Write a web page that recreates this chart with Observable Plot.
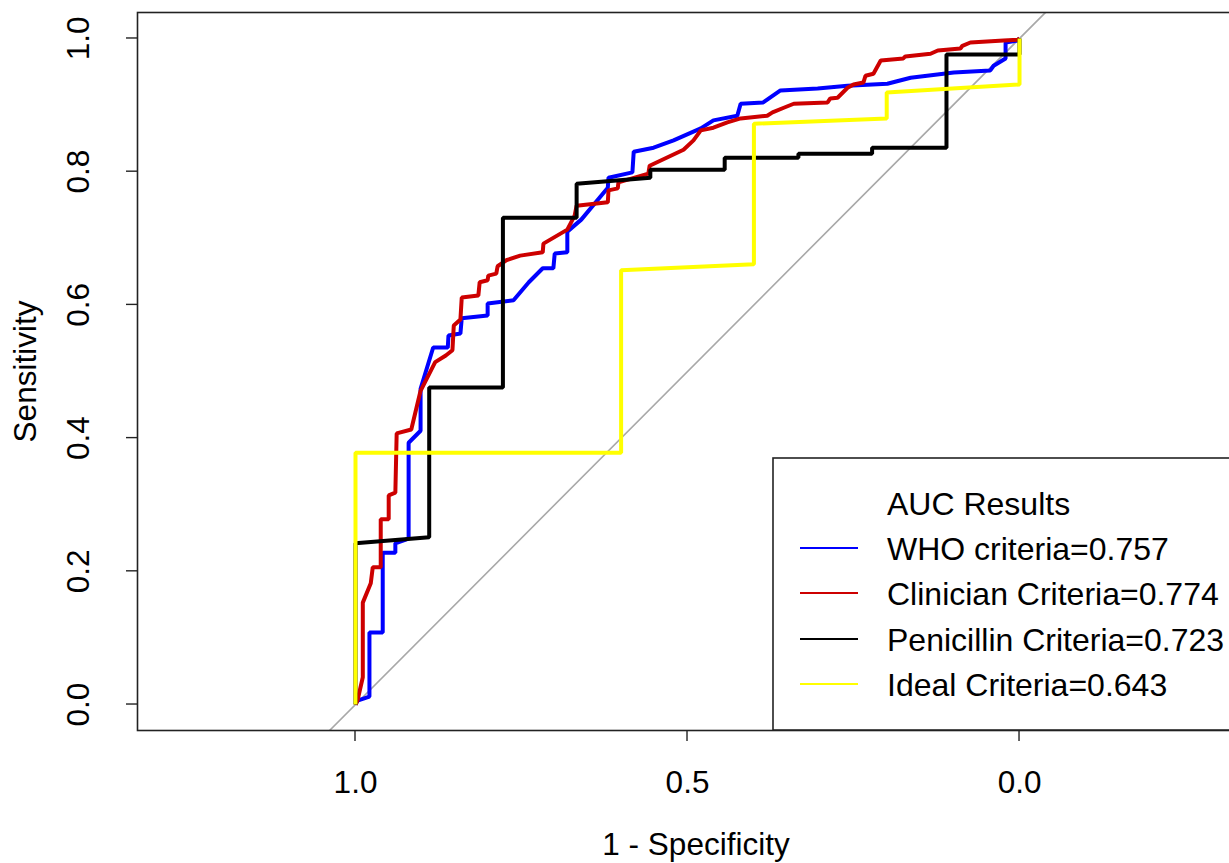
<!DOCTYPE html>
<html>
<head>
<meta charset="utf-8">
<script src="https://cdn.jsdelivr.net/npm/d3@7"></script>
<script src="https://cdn.jsdelivr.net/npm/@observablehq/plot@0.6"></script>
<style>
  html, body { margin: 0; padding: 0; background: #fff; overflow: hidden; }
  #chart svg { display: block; }
</style>
</head>
<body>
<div id="chart"></div>
<script>
// ---- Data (specificity on x, reversed; sensitivity on y) ----
const seriesNames = ["WHO criteria", "Clinician Criteria", "Penicillin Criteria", "Ideal Criteria"];
const seriesAUC = [0.757, 0.774, 0.723, 0.643];
const seriesColors = ["#0000ff", "#cd0000", "#000000", "#ffff00"];

const whoSpec = [1.000,0.997,0.979,0.979,0.959,0.959,0.940,0.940,0.920,0.920,0.902,0.902,0.883,0.861,0.860,0.842,0.840,0.801,0.801,0.762,0.739,0.718,0.702,0.700,0.681,0.681,0.660,0.620,0.619,0.583,0.581,0.551,0.521,0.480,0.461,0.425,0.420,0.386,0.360,0.304,0.259,0.199,0.164,0.099,0.044,0.039,0.021,0.021,0.003,0.000];
const whoSens = [0.000,0.006,0.012,0.108,0.108,0.228,0.228,0.242,0.249,0.393,0.411,0.474,0.536,0.536,0.554,0.557,0.580,0.584,0.602,0.607,0.634,0.655,0.655,0.677,0.679,0.710,0.728,0.776,0.791,0.799,0.830,0.836,0.847,0.865,0.877,0.884,0.902,0.904,0.922,0.925,0.929,0.932,0.941,0.949,0.952,0.959,0.970,0.994,0.997,1.000];

const clinSpec = [1.000,0.997,0.989,0.989,0.977,0.974,0.962,0.962,0.950,0.950,0.940,0.938,0.916,0.902,0.880,0.864,0.854,0.852,0.842,0.840,0.815,0.813,0.801,0.800,0.788,0.786,0.773,0.752,0.718,0.717,0.681,0.670,0.667,0.620,0.619,0.605,0.604,0.559,0.557,0.506,0.491,0.480,0.461,0.440,0.420,0.380,0.372,0.355,0.340,0.289,0.285,0.274,0.259,0.250,0.235,0.232,0.220,0.209,0.175,0.172,0.134,0.123,0.089,0.086,0.074,0.024,0.003,0.000];
const clinSens = [0.000,0.006,0.041,0.153,0.182,0.206,0.206,0.278,0.278,0.314,0.318,0.407,0.413,0.471,0.514,0.524,0.532,0.569,0.578,0.611,0.614,0.634,0.637,0.644,0.647,0.658,0.667,0.674,0.679,0.692,0.713,0.734,0.749,0.754,0.772,0.775,0.784,0.797,0.809,0.833,0.847,0.862,0.866,0.874,0.880,0.884,0.889,0.896,0.902,0.904,0.910,0.911,0.926,0.931,0.934,0.944,0.947,0.967,0.970,0.973,0.977,0.982,0.985,0.989,0.994,0.997,0.998,1.000];

const penSpec = [1.000,1.000,0.889,0.889,0.778,0.778,0.667,0.667,0.556,0.556,0.444,0.444,0.333,0.333,0.222,0.222,0.110,0.110,0.000,0.000];
const penSens = [0.000,0.242,0.251,0.476,0.476,0.731,0.731,0.782,0.791,0.803,0.803,0.821,0.821,0.827,0.827,0.836,0.836,0.976,0.976,1.000];

const idealSpec = [1.000,1.000,0.600,0.600,0.400,0.400,0.200,0.200,0.000,0.000];
const idealSens = [0.000,0.378,0.378,0.652,0.661,0.872,0.880,0.919,0.931,1.000];

const diagSpec = [1.04, -0.04];
const diagSens = [-0.04, 1.04];

const specTicks = [1.0, 0.5, 0.0];
const sensTicks = [0.0, 0.2, 0.4, 0.6, 0.8, 1.0];

// ---- Build tables ----
const toRows = (sp, se, name) => sp.map((s, i) => ({spec: s, sens: se[i], series: name}));
const curves = [
  toRows(whoSpec, whoSens, seriesNames[0]),
  toRows(clinSpec, clinSens, seriesNames[1]),
  toRows(penSpec, penSens, seriesNames[2]),
  toRows(idealSpec, idealSens, seriesNames[3])
];
const diag = toRows(diagSpec, diagSens, "diag");

const FONT = "'Liberation Sans', Arial, Helvetica, sans-serif";
const FS = 31.5;
const LFS = 32;

const chart = Plot.plot({
  width: 1229,
  height: 863,
  marginLeft: 137,
  marginTop: 12,
  marginBottom: 133,
  marginRight: -13,
  style: {fontFamily: FONT, background: "#fff", color: "#000"},
  x: {domain: [1.3283, -0.3358], axis: null},
  y: {domain: [-0.039, 1.039], axis: null},
  marks: [
    Plot.line(diag, {x: "spec", y: "sens", stroke: "#a8a8a8", strokeWidth: 1.6, clip: true}),
    ...curves.map((rows, i) => Plot.line(rows, {x: "spec", y: "sens", stroke: seriesColors[i], strokeWidth: 4, strokeLinejoin: "miter", strokeLinecap: "butt"})),
    Plot.frame({stroke: "#222", strokeWidth: 1.6}),
    // x axis labels
    Plot.text(specTicks, {x: d => d, text: d => d.toFixed(1), frameAnchor: "bottom", textAnchor: "middle", lineAnchor: "middle", dy: 52, fontSize: FS, fill: "#000"}),
    Plot.text(["1 - Specificity"], {frameAnchor: "bottom", textAnchor: "middle", lineAnchor: "middle", dx: 6, dy: 114, fontSize: FS, fill: "#000"}),
    // y axis labels
    Plot.text(sensTicks, {y: d => d, text: d => d.toFixed(1), frameAnchor: "left", textAnchor: "middle", lineAnchor: "middle", dx: -59, rotate: -90, fontSize: FS, fill: "#000"}),
    Plot.text(["Sensitivity"], {frameAnchor: "left", textAnchor: "middle", lineAnchor: "middle", dx: -112, rotate: -90, fontSize: FS, fill: "#000"})
  ]
});

document.getElementById("chart").appendChild(chart);

// Outward tick marks placed with the plot's own scales
const svg = d3.select(chart);
const xs = chart.scale("x"), ys = chart.scale("y");
const axisG = svg.append("g").attr("stroke", "#222").attr("stroke-width", 1.4);
specTicks.forEach(t => {
  const px = xs.apply(t);
  axisG.append("line").attr("x1", px).attr("x2", px).attr("y1", 730).attr("y2", 741);
});
sensTicks.forEach(t => {
  const py = ys.apply(t);
  axisG.append("line").attr("x1", 137).attr("x2", 126).attr("y1", py).attr("y2", py);
});

// Legend box (bottom-right, inside the plot)
const lg = svg.append("g").attr("font-family", FONT).attr("font-size", LFS).attr("text-anchor", "start").attr("fill", "#000");
lg.append("rect").attr("x", 773).attr("y", 458).attr("width", 520).attr("height", 272)
  .attr("fill", "#fff").attr("stroke", "#222").attr("stroke-width", 1.6);
lg.append("text").attr("x", 887).attr("y", 515).text("AUC Results");
const rowY = [560, 605, 651, 696];
seriesNames.forEach((n, i) => {
  lg.append("line").attr("x1", 800).attr("x2", 858).attr("y1", rowY[i] - 12).attr("y2", rowY[i] - 12)
    .attr("stroke", seriesColors[i]).attr("stroke-width", 2);
  lg.append("text").attr("x", 887).attr("y", rowY[i]).text(`${n}=${seriesAUC[i]}`);
});
</script>
</body>
</html>
